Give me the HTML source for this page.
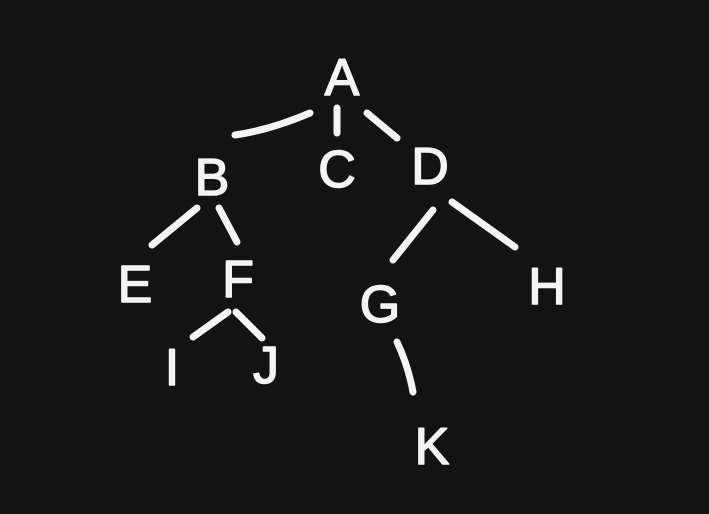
<!DOCTYPE html>
<html>
<head>
<meta charset="utf-8">
<style>
  html,body{margin:0;padding:0;background:#131313;}
  svg{display:block;}
  .edge{stroke:#f4f4f4;stroke-width:7;stroke-linecap:round;fill:none;}
  .node{fill:#f4f4f4;stroke:#f4f4f4;stroke-width:1.5;stroke-linejoin:round;font-family:"Liberation Sans",sans-serif;font-weight:normal;font-size:52px;text-anchor:middle;dominant-baseline:central;}
</style>
</head>
<body>
<svg width="709" height="514" viewBox="0 0 709 514">
  <rect width="709" height="514" fill="#131313"/>
  <g>
    <path class="edge" d="M235,135 Q270,130 310,113"/>
    <path class="edge" d="M337,108 L337,133"/>
    <path class="edge" d="M367,113 L397,138"/>
    <path class="edge" d="M197,208 L152,245"/>
    <path class="edge" d="M219,208 L237,242"/>
    <path class="edge" d="M433,210 L393,260"/>
    <path class="edge" d="M452,202 L515,247"/>
    <path class="edge" d="M228,312 L193,337"/>
    <path class="edge" d="M236,312 L262,338"/>
    <path class="edge" d="M397,342 Q408,365 413,392"/>
  </g>
  <g>
    <text class="node" x="342" y="78">A</text>
    <text class="node" x="212" y="178">B</text>
    <text class="node" x="337" y="170">C</text>
    <text class="node" x="430" y="167">D</text>
    <text class="node" x="135" y="285">E</text>
    <text class="node" x="238" y="280">F</text>
    <text class="node" x="380" y="305">G</text>
    <text class="node" x="547" y="287">H</text>
    <text class="node" x="172" y="368">I</text>
    <text class="node" x="266" y="366">J</text>
    <text class="node" x="432" y="447">K</text>
  </g>
</svg>
</body>
</html>
